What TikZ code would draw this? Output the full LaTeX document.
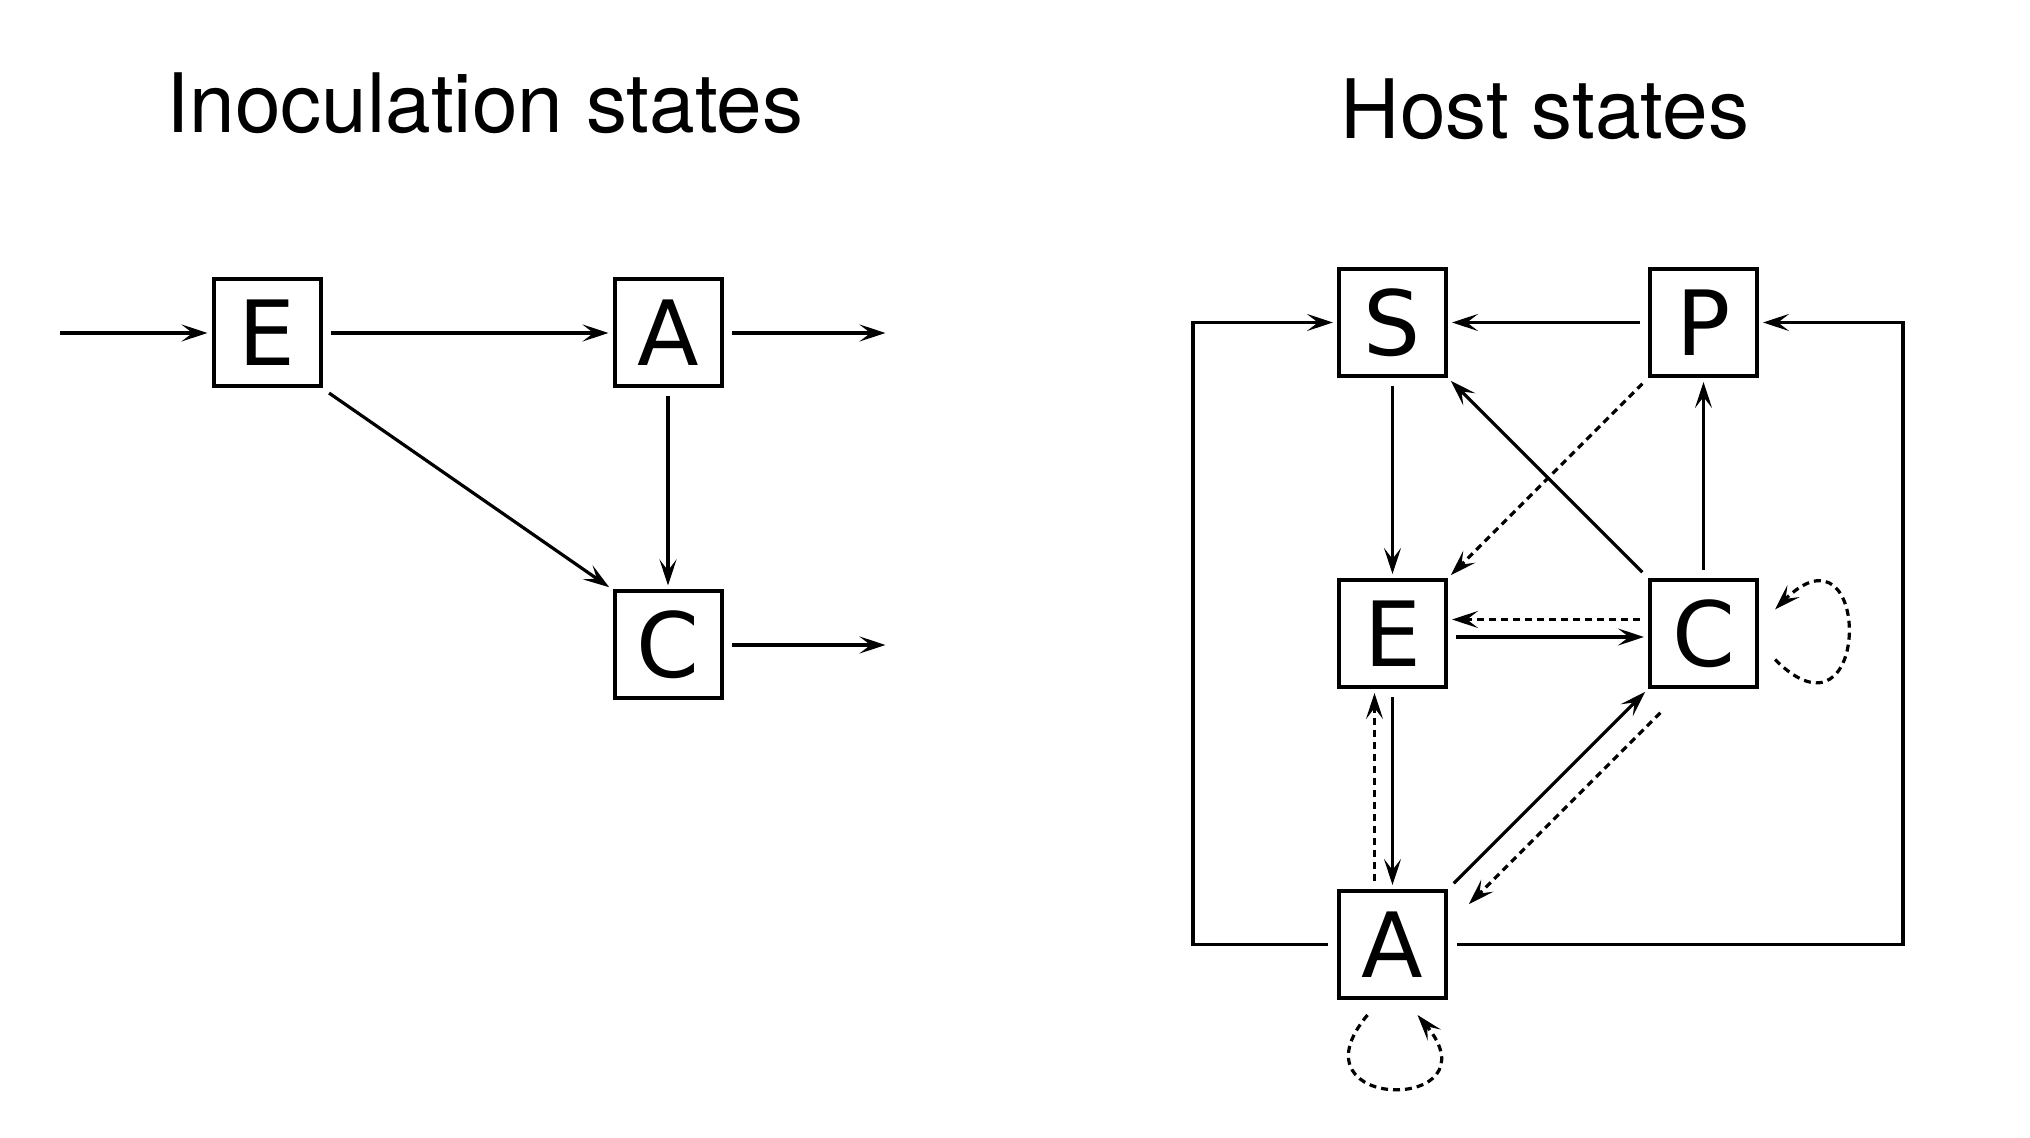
\documentclass[tikz,border=0pt]{standalone}
\usepackage{fontspec}
\setmainfont{TeX Gyre Heros}
\newfontfamily\statefont{DejaVu Sans}
\usetikzlibrary{positioning,arrows.meta}

\begin{document}
\begin{tikzpicture}[
  x=0.5pt, y=-0.5pt,
  title/.style={anchor=base, font=\fontsize{41}{49}\selectfont},
  box/.style={draw, line width=2pt, minimum size=53.5pt, inner sep=0pt,
    font=\statefont\fontsize{45}{54}\selectfont},
  arrow/.style={-{Stealth[length=13pt, width=8.5pt, inset=5.5pt]}, line width=1.6pt,
    shorten >=2pt, shorten <=4pt},
  weak/.style={arrow, dash pattern=on 3.5pt off 2.5pt},
  node distance=100pt
]
\useasboundingbox (0,0) rectangle (2030,1138);

% Titles
\node[title] (ititle) at (485,133) {Inoculation states};
\node[title] (htitle) at (1545,139) {Host states};

% Inoculation states
\node[box] (iE) at (267,333) {E};
\node[box, right=145pt of iE] (iA) {A};
\node[box, below=100.5pt of iA] (iC) {C};

\coordinate[left=80pt of iE] (iin);
\coordinate[right=83pt of iA] (iAout);
\coordinate[right=83pt of iC] (iCout);

\draw[arrow] (iin) -- (iE);
\draw[arrow] (iE) -- (iA);
\draw[arrow] (iA) -- (iAout);
\draw[arrow] (iE.south east) -- (iC.north west);
\draw[arrow] (iA) -- (iC);
\draw[arrow] (iC) -- (iCout);

% Host states
\node[box] (hS) at (1392.5,322.5) {S};
\node[box, right=of hS] (hP) {P};
\node[box, below=of hS] (hE) {E};
\node[box, below=of hP] (hC) {C};
\node[box, below=of hE] (hA) {A};

% Solid transitions
\draw[arrow] (hP) -- (hS);
\draw[arrow] (hS) -- (hE);
\draw[arrow] (hC.north west) -- (hS.south east);
\draw[arrow] (hC) -- (hP);
\draw[arrow] ([yshift=-1.75pt]hE.east) -- ([yshift=-1.75pt]hC.west);
\draw[arrow] (hE) -- (hA);
\draw[arrow] (hA.north east) -- (hC.south west);

% Outer loops back to S and P
\draw[arrow, shorten <=4.5pt] (hA.west) -| ([xshift=-72pt]hS.west) -- (hS.west);
\draw[arrow, shorten <=4.5pt] (hA.east) -| ([xshift=72pt]hP.east) -- (hP.east);

% Dashed transitions
\draw[weak] (hP.south west) -- (hE.north east);
\draw[weak] ([yshift=7pt]hC.west) -- ([yshift=7pt]hE.east);
\draw[weak] ([xshift=-9pt]hA.north) -- ([xshift=-9pt]hE.south);
\draw[weak] ([shift={(9pt,-9pt)}]hC.south west) -- ([shift={(9pt,-9pt)}]hA.north east);

% Self loops
\draw[weak, shorten >=0pt, shorten <=0pt] ([shift={(8pt,-13pt)}]hC.east)
  .. controls +(-45:69pt) and +(45:69pt) .. ([shift={(8pt,12pt)}]hC.east);
\draw[weak, shorten >=0pt, shorten <=0pt] ([shift={(-12.5pt,-7.5pt)}]hA.south)
  .. controls +(-130:64pt) and +(-50:64pt) .. ([shift={(12.5pt,-7.5pt)}]hA.south);

\end{tikzpicture}
\end{document}
